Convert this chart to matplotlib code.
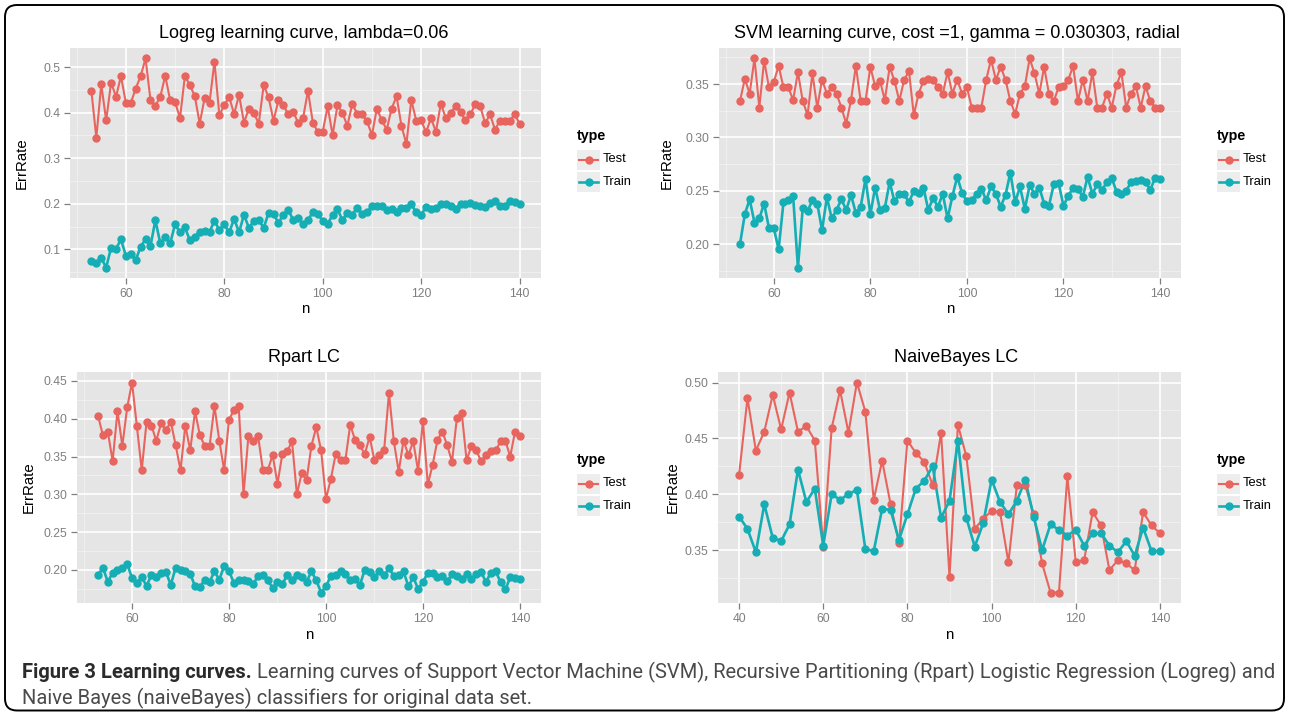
import numpy as np
import matplotlib
matplotlib.use('Agg')
import matplotlib.pyplot as plt
from matplotlib.lines import Line2D
from matplotlib.patches import Rectangle, FancyBboxPatch
from matplotlib.ticker import MultipleLocator, AutoMinorLocator, FormatStrFormatter
from matplotlib import font_manager
from matplotlib.transforms import IdentityTransform

# ---------------- data ----------------
n_full = list(range(53, 141))
n_nb = list(range(40, 141, 2))

logreg_test = [0.447, 0.345, 0.462, 0.383, 0.466, 0.435, 0.480, 0.422, 0.421, 0.453,
               0.480, 0.519, 0.428, 0.415, 0.435, 0.481, 0.427, 0.423, 0.388, 0.481,
               0.460, 0.437, 0.376, 0.432, 0.422, 0.512, 0.394, 0.417, 0.434, 0.397,
               0.439, 0.378, 0.409, 0.399, 0.376, 0.460, 0.434, 0.382, 0.427, 0.417,
               0.396, 0.402, 0.378, 0.388, 0.448, 0.378, 0.358, 0.358, 0.414, 0.351,
               0.416, 0.400, 0.371, 0.419, 0.398, 0.397, 0.381, 0.351, 0.409, 0.383,
               0.363, 0.409, 0.436, 0.371, 0.331, 0.428, 0.382, 0.383, 0.357, 0.388,
               0.358, 0.420, 0.388, 0.400, 0.414, 0.401, 0.383, 0.396, 0.419, 0.414,
               0.377, 0.396, 0.363, 0.382, 0.382, 0.382, 0.396, 0.376]
logreg_train = [0.075, 0.069, 0.081, 0.060, 0.104, 0.101, 0.122, 0.086, 0.089, 0.076,
                0.106, 0.122, 0.107, 0.164, 0.113, 0.127, 0.113, 0.155, 0.137, 0.148,
                0.120, 0.127, 0.139, 0.141, 0.138, 0.163, 0.142, 0.155, 0.137, 0.167,
                0.137, 0.176, 0.147, 0.162, 0.164, 0.147, 0.180, 0.178, 0.158, 0.176,
                0.186, 0.165, 0.168, 0.155, 0.164, 0.182, 0.178, 0.162, 0.155, 0.176,
                0.188, 0.164, 0.180, 0.176, 0.191, 0.177, 0.181, 0.195, 0.196, 0.195,
                0.186, 0.188, 0.183, 0.191, 0.191, 0.199, 0.181, 0.175, 0.194, 0.189,
                0.191, 0.199, 0.199, 0.196, 0.189, 0.199, 0.199, 0.201, 0.198, 0.195,
                0.194, 0.201, 0.206, 0.196, 0.196, 0.207, 0.204, 0.200]

svm_test = [0.334, 0.355, 0.341, 0.374, 0.328, 0.372, 0.347, 0.352, 0.367, 0.347,
            0.347, 0.335, 0.361, 0.334, 0.321, 0.360, 0.328, 0.354, 0.341, 0.347,
            0.341, 0.328, 0.313, 0.335, 0.367, 0.334, 0.334, 0.366, 0.348, 0.353,
            0.335, 0.366, 0.353, 0.334, 0.354, 0.362, 0.321, 0.341, 0.353, 0.355,
            0.354, 0.347, 0.341, 0.361, 0.341, 0.354, 0.341, 0.347, 0.328, 0.328,
            0.328, 0.354, 0.373, 0.354, 0.366, 0.354, 0.334, 0.322, 0.341, 0.348,
            0.374, 0.360, 0.341, 0.366, 0.341, 0.334, 0.347, 0.348, 0.354, 0.367,
            0.334, 0.354, 0.334, 0.361, 0.328, 0.328, 0.341, 0.328, 0.349, 0.361,
            0.328, 0.341, 0.348, 0.328, 0.348, 0.334, 0.328, 0.328]
svm_train = [0.200, 0.228, 0.242, 0.220, 0.224, 0.238, 0.215, 0.215, 0.195, 0.239,
             0.241, 0.245, 0.178, 0.234, 0.231, 0.241, 0.238, 0.213, 0.244, 0.224,
             0.232, 0.242, 0.232, 0.246, 0.229, 0.235, 0.261, 0.228, 0.253, 0.232,
             0.234, 0.258, 0.240, 0.247, 0.247, 0.239, 0.250, 0.248, 0.253, 0.232,
             0.243, 0.235, 0.247, 0.224, 0.245, 0.263, 0.248, 0.240, 0.241, 0.247,
             0.252, 0.241, 0.254, 0.247, 0.235, 0.246, 0.267, 0.239, 0.254, 0.233,
             0.255, 0.247, 0.253, 0.238, 0.236, 0.256, 0.257, 0.236, 0.245, 0.253,
             0.252, 0.244, 0.263, 0.247, 0.256, 0.251, 0.258, 0.262, 0.249, 0.247,
             0.250, 0.258, 0.259, 0.260, 0.258, 0.251, 0.262, 0.261]

rpart_test = [0.4035, 0.378, 0.383, 0.344, 0.410, 0.364, 0.415, 0.448, 0.390, 0.332,
              0.396, 0.391, 0.371, 0.394, 0.385, 0.396, 0.365, 0.332, 0.391, 0.358,
              0.410, 0.378, 0.364, 0.364, 0.417, 0.371, 0.332, 0.399, 0.411, 0.417,
              0.300, 0.377, 0.370, 0.377, 0.332, 0.332, 0.352, 0.314, 0.353, 0.357,
              0.370, 0.300, 0.328, 0.319, 0.364, 0.389, 0.358, 0.294, 0.320, 0.353,
              0.345, 0.345, 0.392, 0.372, 0.365, 0.353, 0.376, 0.345, 0.352, 0.359,
              0.434, 0.370, 0.330, 0.371, 0.352, 0.370, 0.331, 0.397, 0.313, 0.339,
              0.372, 0.383, 0.365, 0.343, 0.401, 0.408, 0.345, 0.364, 0.358, 0.344,
              0.352, 0.357, 0.358, 0.370, 0.371, 0.350, 0.383, 0.377]
rpart_train = [0.193, 0.203, 0.184, 0.196, 0.200, 0.203, 0.208, 0.189, 0.183, 0.190,
               0.179, 0.193, 0.190, 0.196, 0.197, 0.180, 0.203, 0.200, 0.199, 0.195,
               0.178, 0.177, 0.187, 0.184, 0.198, 0.187, 0.205, 0.198, 0.183, 0.186,
               0.186, 0.185, 0.181, 0.192, 0.193, 0.186, 0.176, 0.184, 0.181, 0.193,
               0.187, 0.193, 0.191, 0.184, 0.198, 0.186, 0.170, 0.178, 0.192, 0.193,
               0.198, 0.194, 0.187, 0.188, 0.180, 0.200, 0.197, 0.190, 0.198, 0.193,
               0.202, 0.192, 0.193, 0.198, 0.178, 0.190, 0.175, 0.184, 0.196, 0.196,
               0.191, 0.192, 0.185, 0.194, 0.192, 0.188, 0.194, 0.188, 0.194, 0.197,
               0.184, 0.196, 0.198, 0.184, 0.174, 0.190, 0.189, 0.188]

nb_test = [0.417, 0.486, 0.439, 0.456, 0.489, 0.458, 0.491, 0.456, 0.461, 0.448,
           0.353, 0.459, 0.493, 0.455, 0.500, 0.474, 0.395, 0.430, 0.391, 0.356,
           0.448, 0.437, 0.429, 0.408, 0.455, 0.326, 0.462, 0.434, 0.369, 0.378,
           0.385, 0.384, 0.339, 0.408, 0.408, 0.382, 0.338, 0.312, 0.312, 0.416,
           0.339, 0.341, 0.384, 0.372, 0.332, 0.341, 0.338, 0.332, 0.384, 0.372,
           0.365]
nb_train = [0.380, 0.369, 0.348, 0.391, 0.361, 0.358, 0.373, 0.422, 0.393, 0.405,
            0.354, 0.400, 0.395, 0.400, 0.404, 0.351, 0.349, 0.387, 0.386, 0.359,
            0.382, 0.405, 0.412, 0.425, 0.379, 0.394, 0.448, 0.379, 0.353, 0.374,
            0.413, 0.393, 0.382, 0.394, 0.413, 0.380, 0.350, 0.373, 0.368, 0.363,
            0.368, 0.354, 0.365, 0.365, 0.354, 0.348, 0.358, 0.345, 0.370, 0.349,
            0.349]

titles = ["Logreg learning curve, lambda=0.06",
          "SVM learning curve, cost =1, gamma = 0.030303, radial",
          "Rpart LC", "NaiveBayes LC"]
series_labels = ["Test", "Train"]

# ---------------- style ----------------
W, H = 1289, 712
plt.rcParams['font.family'] = ['Liberation Sans', 'DejaVu Sans']
RED = '#E8645E'
TEAL = '#14AEB4'
BG = '#E5E5E5'
MINOR = '#F2F2F2'
GREY = '#7F7F7F'
MS = 5.0

fig = plt.figure(figsize=(W / 100, H / 100), dpi=100)
fig.patch.set_facecolor('white')


def fx(px):
    return px / W


def fy(py):
    return 1 - py / H


panels = [
    dict(rect=(70, 48, 541, 278), x=n_full, test=logreg_test, train=logreg_train,
         title_xy=(304, 33), ystep=0.1, fmt='%.1f', ylab_x=22, xlab_y=309, title=titles[0]),
    dict(rect=(719, 48, 1181, 278), x=n_full, test=svm_test, train=svm_train,
         title_xy=(957, 33), ystep=0.05, fmt='%.2f', ylab_x=667, xlab_y=309, title=titles[1]),
    dict(rect=(77, 372, 541, 603), x=n_full, test=rpart_test, train=rpart_train,
         title_xy=(304, 358), ystep=0.05, fmt='%.2f', ylab_x=29, xlab_y=635, title=titles[2]),
    dict(rect=(718, 372, 1181, 603), x=n_nb, test=nb_test, train=nb_train,
         title_xy=(956, 358), ystep=0.05, fmt='%.2f', ylab_x=673, xlab_y=635, title=titles[3]),
]

for p in panels:
    l, t, r, b = p['rect']
    ax = fig.add_axes([fx(l), fy(b), (r - l) / W, (b - t) / H])
    ax.set_facecolor(BG)
    for s in ax.spines.values():
        s.set_visible(False)
    # lines first, then points (ggplot layer order)
    ax.plot(p['x'], p['test'], color=RED, lw=1.5, zorder=3, solid_capstyle='round')
    ax.plot(p['x'], p['train'], color=TEAL, lw=1.9, zorder=3, solid_capstyle='round')
    ax.plot(p['x'], p['test'], ls='none', marker='o', ms=MS, color=RED, mec=RED, zorder=4)
    ax.plot(p['x'], p['train'], ls='none', marker='o', ms=MS, color=TEAL, mec=TEAL, zorder=4)
    ax.margins(x=0.05, y=0.05)
    ax.xaxis.set_major_locator(MultipleLocator(20))
    ax.xaxis.set_minor_locator(AutoMinorLocator(2))
    ax.yaxis.set_major_locator(MultipleLocator(p['ystep']))
    ax.yaxis.set_minor_locator(AutoMinorLocator(2))
    ax.yaxis.set_major_formatter(FormatStrFormatter(p['fmt']))
    ax.grid(which='minor', color=MINOR, lw=0.6, zorder=0)
    ax.grid(which='major', color='white', lw=1.2, zorder=1)
    ax.set_axisbelow(True)
    ax.tick_params(which='major', length=4, width=0.9, color=GREY, labelcolor=GREY,
                   labelsize=8.7, pad=3)
    ax.tick_params(which='minor', length=0)
    fig.text(fx(p['title_xy'][0]), fy(p['title_xy'][1]), p['title'], ha='center',
             va='center', fontsize=13, color='black')
    fig.text(fx(p['ylab_x']), fy((t + b) / 2), 'ErrRate', rotation=90, ha='center',
             va='center', fontsize=10.8, color='black')
    fig.text(fx((l + r) / 2), fy(p['xlab_y']), 'n', ha='center', va='center',
             fontsize=10.8, color='black')

    # legend (ggplot style) to the right of the panel
    lx = r + 36
    base = t - 48
    fig.text(fx(lx), fy(base + 136), 'type', ha='left', va='center', fontsize=10.3,
             fontweight='bold', color='black')
    for lab, col, lw, yc in [(series_labels[0], RED, 1.5, base + 159.5),
                             (series_labels[1], TEAL, 1.9, base + 182)]:
        fig.add_artist(Rectangle((fx(lx), fy(yc + 10)), 23 / W, 20 / H,
                                 transform=fig.transFigure, facecolor='#EDEDED',
                                 edgecolor='none'))
        fig.add_artist(Line2D([fx(lx + 2), fx(lx + 11.5), fx(lx + 21)], [fy(yc)] * 3,
                              transform=fig.transFigure, color=col, lw=lw,
                              marker='o', ms=MS, markevery=[1]))
        fig.text(fx(lx + 26), fy(yc), lab, ha='left', va='center', fontsize=9.3,
                 color='black')

# ---------------- caption ----------------
cap_bold = 'Figure 3 Learning curves.'
cap_rest1 = ' Learning curves of Support Vector Machine (SVM), Recursive Partitioning (Rpart) Logistic Regression (Logreg) and'
cap_line2 = 'Naive Bayes (naiveBayes) classifiers for original data set.'

x0, x_end, x_end2 = 22, 1270, 595
y1, y2 = 672, 698
BOLD_C, TXT_C = '#2b2b2b', '#4a4a4a'
rend = fig.canvas.get_renderer()

names = {f.name for f in font_manager.fontManager.ttflist}
cands = [c for c in ['Open Sans', 'Noto Sans', 'Lato', 'Roboto', 'Liberation Sans']
         if c in names] or ['DejaVu Sans']
target_ratio = (x_end2 - x0) / (x_end - x0)
best = None
for c in cands:
    fam = [c, 'DejaVu Sans']
    a = fig.text(0, 0, cap_bold, fontsize=12, fontweight='bold', family=fam)
    bb = fig.text(0, 0, cap_rest1, fontsize=12, family=fam)
    cc = fig.text(0, 0, cap_line2, fontsize=12, family=fam)
    w1 = a.get_window_extent(rend).width + bb.get_window_extent(rend).width
    w2 = cc.get_window_extent(rend).width
    for o in (a, bb, cc):
        o.remove()
    score = abs(w2 / w1 - target_ratio)
    if best is None or score < best[0]:
        best = (score, c, w1, w2)
_, cap_font, w1, w2 = best
cap_fam = [cap_font, 'DejaVu Sans']
fs = 12 * (x_end - x0) / w1

tb = fig.text(fx(x0), fy(y1), cap_bold, ha='left', va='center', fontsize=fs,
              fontweight='bold', family=cap_fam, color=BOLD_C)
wb = tb.get_window_extent(rend).width
fig.text(fx(x0 + wb), fy(y1), cap_rest1, ha='left', va='center', fontsize=fs,
         family=cap_fam, color=TXT_C)
fig.text(fx(x0), fy(y2), cap_line2, ha='left', va='center', fontsize=fs,
         family=cap_fam, color=TXT_C)

# ---------------- frame ----------------
frame = FancyBboxPatch((5, 1.5), 1279, 705.5, boxstyle='round,pad=0,rounding_size=12',
                       transform=IdentityTransform(), fill=False, edgecolor='black',
                       linewidth=1.4)
fig.add_artist(frame)

fig.savefig('out.png', dpi=100, facecolor='white')
